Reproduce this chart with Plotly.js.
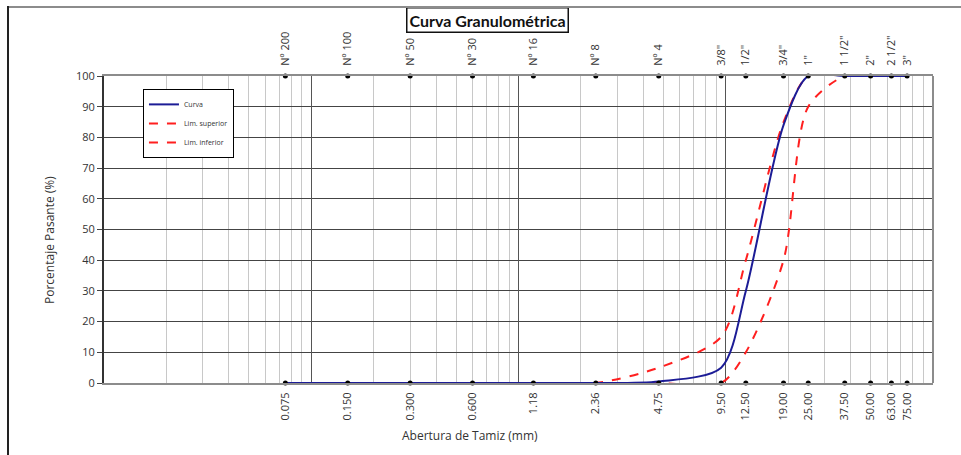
<!DOCTYPE html>
<html>
<head>
<meta charset="utf-8">
<script src="https://cdn.plot.ly/plotly-3.0.1.min.js"></script>
<style>
  html, body { margin: 0; padding: 0; background: #fff; }
  #wrap { position: relative; width: 961px; height: 455px; }
  #chart { width: 961px; height: 455px; }
  #frameTop { position: absolute; left: 8px; top: 6px; width: 953px; height: 0; border-top: 2px solid #8c8c8c; pointer-events: none; }
  #frameLeft { position: absolute; left: 7px; top: 6px; width: 0; height: 449px; border-left: 2px solid #222; pointer-events: none; }
</style>
</head>
<body>
<div id="wrap">
  <div id="chart"></div>
  <div id="frameTop"></div>
  <div id="frameLeft"></div>
</div>
<script>
// Sieve openings (mm)
const sieveMm = [75, 63, 50, 37.5, 25, 19, 12.5, 9.5, 4.75, 2.36, 1.18, 0.6, 0.3, 0.15, 0.075];
const bottomLabels = ["75.00", "63.00", "50.00", "37.50", "25.00", "19.00", "12.50", "9.50", "4.75", "2.36", "1.18", "0.600", "0.300", "0.150", "0.075"];
const topLabels = ['3"', '2 1/2"', '2"', '1 1/2"', '1"', '3/4"', '1/2"', '3/8"', 'Nº 4', 'Nº 8', 'Nº 16', 'Nº 30', 'Nº 50', 'Nº 100', 'Nº 200'];

// Percent passing
const curva   = [100, 100, 100, 100, 100, 84, 30, 5, 0.5, 0, 0, 0, 0, 0, 0];
const limSup  = [100, 100, 100, 100, 100, 85, 40, 15, 5, 0, 0, 0, 0, 0, 0];
const limInf  = [100, 100, 100, 100, 90, 40, 10, 0, 0, 0, 0, 0, 0, 0, 0];

const FONT = "'Open Sans', 'DejaVu Sans', sans-serif";
const TFONT = "Lato, 'Open Sans', sans-serif";

// grid helpers for the log axis
const decades = [0.01, 0.1, 1, 10, 100];
const minorVals = [];
decades.slice(0, 4).forEach(d => { for (let k = 2; k <= 9; k++) minorVals.push(+(d * k).toPrecision(3)); });

const traces = [
  { x: [], y: [], xaxis: 'x3', yaxis: 'y', showlegend: false, hoverinfo: 'skip', type: 'scatter' },
  { x: [], y: [], xaxis: 'x2', yaxis: 'y', showlegend: false, hoverinfo: 'skip', type: 'scatter' },
  {
    name: 'Lim. inferior', x: sieveMm, y: limInf, type: 'scatter', mode: 'lines',
    line: { color: '#ff1f1f', width: 2, dash: 'dash', shape: 'spline', smoothing: 0.8 }
  },
  {
    name: 'Lim. superior', x: sieveMm, y: limSup, type: 'scatter', mode: 'lines',
    line: { color: '#ff1f1f', width: 2, dash: 'dash', shape: 'spline', smoothing: 0.8 }
  },
  {
    name: 'Curva', x: sieveMm, y: curva, type: 'scatter', mode: 'lines',
    line: { color: '#1c1c96', width: 2, shape: 'spline', smoothing: 0.8 }
  },
  {
    x: sieveMm.concat(sieveMm), y: sieveMm.map(() => 0).concat(sieveMm.map(() => 100)),
    type: 'scatter', mode: 'markers', marker: { color: '#000', size: 5 },
    showlegend: false, cliponaxis: false, hoverinfo: 'skip'
  }
];

const layout = {
  width: 961, height: 455,
  margin: { l: 104, r: 28, t: 76, b: 72 },
  paper_bgcolor: '#fff', plot_bgcolor: '#fff',
  font: { family: FONT, size: 11, color: '#333' },
  showlegend: true,
  legend: {
    x: 0.047, y: 0.958, xanchor: 'left', yanchor: 'top',
    bgcolor: '#fff', bordercolor: '#000', borderwidth: 1,
    font: { family: FONT, size: 7, color: '#333' },
    traceorder: 'reversed', tracegroupgap: 0,
    entrywidth: 110, entrywidthmode: 'pixels'
  },
  xaxis: {
    type: 'log', range: [-2, 2], tickvals: sieveMm, ticktext: bottomLabels,
    tickangle: -90, showgrid: false, zeroline: false,
    ticks: 'outside', ticklen: 3, tickcolor: 'rgba(0,0,0,0)',
    showline: true, linecolor: '#8c8c8c', linewidth: 2,
    tickfont: { family: FONT, size: 11, color: '#333' }
  },
  xaxis2: {
    type: 'log', range: [-2, 2], overlaying: 'x', side: 'top', anchor: 'y',
    tickvals: sieveMm, ticktext: topLabels, tickangle: -90,
    showgrid: false, zeroline: false,
    ticks: 'outside', ticklen: 6, tickcolor: 'rgba(0,0,0,0)',
    showline: true, linecolor: '#8c8c8c', linewidth: 2,
    tickfont: { family: FONT, size: 11, color: '#333' }
  },
  xaxis3: {
    type: 'log', range: [-2, 2], overlaying: 'x', anchor: 'y',
    tickvals: decades, showticklabels: false, ticks: '',
    showgrid: true, gridcolor: '#555', gridwidth: 1, zeroline: false,
    minor: { tickvals: minorVals, showgrid: true, gridcolor: '#c8c8c8', gridwidth: 1, ticks: '' }
  },
  yaxis: {
    range: [0, 100], dtick: 10, tick0: 0,
    showgrid: true, gridcolor: '#444', gridwidth: 1, zeroline: false,
    ticks: 'outside', ticklen: 5, tickcolor: '#444',
    showline: true, linecolor: '#333', linewidth: 2, mirror: false,
    tickfont: { family: FONT, size: 11, color: '#333' }
  },
  shapes: [
    { type: 'line', xref: 'paper', yref: 'paper', x0: 1, x1: 1, y0: 0, y1: 1, line: { color: '#8c8c8c', width: 2 } }
  ],
  annotations: [
    {
      text: '<b>Curva Granulométrica</b>', xref: 'paper', yref: 'paper',
      x: 0.4626, y: 1.182, xanchor: 'center', yanchor: 'middle', showarrow: false,
      font: { family: TFONT, size: 16, color: '#111' },
      bgcolor: '#fff', bordercolor: '#111', borderwidth: 1.5, borderpad: 2
    },
    {
      text: 'Abertura de Tamiz (mm)', xref: 'paper', yref: 'paper',
      x: 0.4415, y: -0.1726, xanchor: 'center', yanchor: 'middle', showarrow: false,
      font: { family: FONT, size: 12, color: '#333' }
    },
    {
      text: 'Porcentaje Pasante (%)', xref: 'paper', yref: 'paper', textangle: -90,
      x: -0.0651, y: 0.466, xanchor: 'center', yanchor: 'middle', showarrow: false,
      font: { family: FONT, size: 12, color: '#333' }
    }
  ]
};

Plotly.newPlot('chart', traces, layout, { displayModeBar: false, staticPlot: true });
</script>
</body>
</html>
